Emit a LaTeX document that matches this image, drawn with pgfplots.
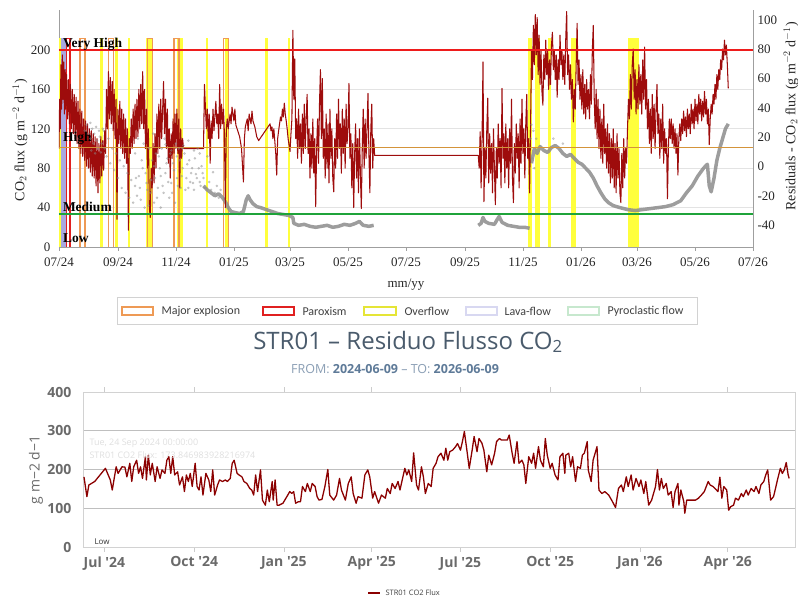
\documentclass[border=0pt]{standalone}
\usepackage{pgfplots}
\pgfplotsset{compat=1.18}
\usepackage{fontspec}
\setmainfont{Liberation Serif}
\newfontfamily\sans{Open Sans}
\newfontfamily\carl{Carlito}
\definecolor{topred}{HTML}{9E0C0C}
\definecolor{botred}{HTML}{8B0000}
\definecolor{bandyel}{HTML}{FFFF3C}
\definecolor{exporange}{HTML}{EE9A55}
\definecolor{parred}{HTML}{E02020}
\definecolor{lavflow}{HTML}{A8A8E0}
\definecolor{vhred}{HTML}{EE1C1C}
\definecolor{hiorange}{HTML}{D4943A}
\definecolor{medgreen}{HTML}{1FA33A}
\definecolor{resgray}{HTML}{8C8C8C}
\definecolor{titlecol}{HTML}{4A5B6C}
\definecolor{subcol}{HTML}{8A9EB4}
\definecolor{subbold}{HTML}{5E7A98}
\definecolor{axgray}{HTML}{6A6A6A}
\pgfplotsset{/pgf/number format/assume math mode=true}

\begin{document}
\begin{tikzpicture}
\path[use as bounding box, clip] (0pt,0pt) rectangle (798pt,598pt);

% ---------- top chart: CO2 flux with event bands ----------
\begin{axis}[
    at={(59pt,351pt)}, anchor=south west, scale only axis,
    width=694pt, height=237pt,
    xmin=0, xmax=730, ymin=0, ymax=240.6,
    axis x line*=bottom, axis y line*=left,
    axis line style={draw=gray!75, line width=0.8pt},
    xtick={0,62,123,184,243,304,365,427,488,549,608,669,730},
    xticklabels={07/24,09/24,11/24,01/25,03/25,05/25,07/25,09/25,11/25,01/26,03/26,05/26,07/26},
    ytick={0,40,80,120,160,200},
    ymajorgrids, grid style={gray!22, line width=0.7pt},
    tick align=outside, major tick length=4pt,
    xtick style={gray!75, line width=0.7pt}, ytick style={draw=none},
    ticklabel style={font=\fontsize{13}{14}\selectfont, text=black!85},
    xticklabel style={yshift=-3pt}, yticklabel style={xshift=-1pt},
  ]
  % overflow bands
  \addplot[fill=bandyel, draw=none] coordinates {(0,212) (2.1,212)} \closedcycle;
  \addplot[fill=bandyel, draw=none] coordinates {(43.6,212) (46.2,212)} \closedcycle;
  \addplot[fill=bandyel, draw=none] coordinates {(59.4,212) (62,212)} \closedcycle;
  \addplot[fill=bandyel, draw=none] coordinates {(72.3,212) (74.9,212)} \closedcycle;
  \addplot[fill=bandyel, draw=none] coordinates {(91.2,212) (99.2,212)} \closedcycle;
  \addplot[fill=bandyel, draw=none] coordinates {(123.8,212) (130.8,212)} \closedcycle;
  \addplot[fill=bandyel, draw=none] coordinates {(154.1,212) (156.7,212)} \closedcycle;
  \addplot[fill=bandyel, draw=none] coordinates {(174.6,212) (178,212)} \closedcycle;
  \addplot[fill=bandyel, draw=none] coordinates {(217.2,212) (219.8,212)} \closedcycle;
  \addplot[fill=bandyel, draw=none] coordinates {(240.7,212) (243.3,212)} \closedcycle;
  \addplot[fill=bandyel, draw=none] coordinates {(493.7,212) (497.3,212)} \closedcycle;
  \addplot[fill=bandyel, draw=none] coordinates {(500.8,212) (506,212)} \closedcycle;
  \addplot[fill=bandyel, draw=none] coordinates {(514.8,212) (517.3,212)} \closedcycle;
  \addplot[fill=bandyel, draw=none] coordinates {(538.6,212) (543.9,212)} \closedcycle;
  \addplot[fill=bandyel, draw=none] coordinates {(598.3,212) (610.1,212)} \closedcycle;
  % lava-flow band
  \addplot[fill=lavflow, draw=none] coordinates {(2.1,212) (8.1,212)} \closedcycle;
  % paroxysm and major explosions (outlined)
  \addplot[draw=parred, line width=1.1pt] coordinates {(8.1,0) (8.1,212) (11.6,212) (11.6,0)};
  \addplot[draw=exporange, line width=1.1pt] coordinates {(22.1,0) (22.1,212) (27.4,212) (27.4,0)};
  \addplot[draw=exporange, line width=1.1pt] coordinates {(52,0) (52,212) (57.5,212) (57.5,0)};
  \addplot[draw=exporange, line width=1.1pt] coordinates {(93,0) (93,212) (98,212) (98,0)};
  \addplot[draw=exporange, line width=1.1pt] coordinates {(121,0) (121,212) (126.2,212) (126.2,0)};
  \addplot[draw=exporange, line width=1.1pt] coordinates {(173.4,0) (173.4,212) (178.2,212) (178.2,0)};

  % residuals (grey): scattered cloud and dense runs
  \addplot[only marks, mark=*, mark size=1.1pt, color=resgray, opacity=0.4] coordinates {
    (27,118) (29,124) (31,115) (33,126) (46,120)
    (33,110) (34,98) (35,120) (36,105) (37,115) (38,95) (39,122) (40,108) (41,100) (42,118)
    (43,112) (44,96) (45,105) (47,118) (48,100) (50,92) (52,110) (54,85) (56,100) (58,78)
    (60,95) (62,70) (64,88) (66,60) (68,82) (70,55) (72,75) (74,50) (76,68) (78,45)
    (80,62) (82,52) (84,72) (86,48) (88,80) (90,40) (92,65) (94,42) (96,55) (98,88)
    (100,45) (101,70) (102,95) (104,60) (106,80) (107,40) (108,100) (110,55) (112,75) (114,90)
    (116,50) (118,65) (120,85) (122,45) (124,70) (126,100) (128,60) (130,80) (132,95) (134,70)
    (136,60) (137,88) (139,75) (141,65) (143,90) (145,70) (147,80) (149,62) (151,75) (153,60)
    (112,104) (118,98) (124,92) (131,103) (142,98) (148,95)
    (80,95) (81,70) (83,110) (85,60) (87,88) (89,105) (91,75) (93,58) (95,100) (97,68)
    (99,115) (100,82) (103,50) (105,92) (107,72) (109,62) (111,110) (113,85) (115,66) (117,95)
    (119,55) (121,78) (123,105) (125,62) (127,88) (129,72) (130,100) (133,58) (135,84) (136,108)
    (138,66) (140,80) (142,58) (144,74) (146,100) (148,66) (150,82) (152,70) (154,60) (156,92)
    (158,66) (160,58) (162,76) (164,55) (166,62) (168,50) (170,58)
    (496,110) (497,124) (498,90) (499,118) (500,80) (502,110) (520,110) (530,105)
  };
  \addplot[color=resgray, line width=3.5pt, opacity=0.85, line join=round] coordinates {
    (152,62) (156,58) (160,55) (164,52) (168,54) (172,50) (175,46) (178,40) (181,36) (185,35)
    (190,34) (194,36) (197,48) (199,52) (201,48) (204,44) (208,41) (212,40) (218,38) (224,36)
    (230,34) (236,33) (242,32) (246,30) (247,24) (252,22) (258,23) (264,21) (270,20) (276,21)
    (282,22) (288,20) (294,21) (300,23) (306,22) (312,24) (316,26) (320,22) (326,21) (331,22)
  };
  \addplot[color=resgray, line width=3.5pt, opacity=0.85, line join=round] coordinates {
    (441,22) (444,24) (446,30) (448,26) (452,24) (458,23) (461,28) (463,31) (466,25) (472,22)
    (478,21) (484,20) (490,20) (495,19)
  };
  \addplot[color=resgray, line width=3.5pt, opacity=0.85, line join=round] coordinates {
    (497,85) (500,100) (503,95) (506,102) (510,98) (514,96) (518,101) (522,103) (526,100) (530,95)
    (534,92) (538,94) (542,90) (546,86) (550,84) (554,80) (558,76) (562,70) (566,62) (570,55)
    (574,49) (578,45) (583,42) (590,40) (598,38) (606,37) (614,38) (622,39) (630,40) (638,41)
    (646,43) (654,47) (660,55) (666,62) (672,72) (678,80) (682,84) (684,62) (686,56) (689,70)
    (692,88) (695,100) (698,110) (701,120) (704,125)
  };

  % CO2 flux (dark red)
  \addplot[color=topred, line width=1.05pt, line join=round] coordinates {
    (0,100) (0.7,150) (1.4,120) (2,185) (2.8,140) (3.5,195) (4.2,150) (5,188) (5.7,135) (6.5,180)
    (7.2,140) (8,175) (9,130) (10,170) (11,125) (12,165) (13,120) (14,160) (15,115) (16,155)
    (17,110) (18,152) (19,105) (20,148) (21,100) (22,140) (23,95) (24,138) (25,92) (26,130)
    (27,88) (28,128) (29,82) (30,125) (31,80) (32,120) (33,76) (34,118) (35,72) (36,115)
    (37,70) (38,112) (39,62) (40,110) (41,55) (42,105) (43,65) (44,112) (45,72) (46,108)
    (47,78) (48,118)
    (49,95) (50,160) (51,120) (52,178) (53,130) (54,172) (55,125) (56,168) (57,118) (58,160)
    (59,110) (60,150) (61,28) (62,140) (63,105) (64,148) (65,100) (66,140) (67,95) (68,135)
    (69,90) (70,130) (71,85) (72,120) (73,17) (74,110) (75,95) (76,130) (77,100) (78,140)
    (79,105) (80,145) (81,110) (82,150) (83,112) (84,160) (85,120) (86,165) (87,125) (88,178)
    (89,120) (90,160) (91,100) (92,140) (93,80) (94,120) (95,40) (96,30) (97,80)
    (98,60) (99,105) (100,65) (101,115) (102,80) (103,135) (104,95) (105,145) (106,100) (107,150)
    (108,110) (110,168) (111,115) (112,150) (113,100) (114,140) (115,85) (116,120) (117,70) (118,115)
    (119,90) (120,130) (121,95) (122,135) (123,100) (124,140) (125,95) (126,130) (127,60) (128,120)
    (129,90) (130,110) (131,100) (151,100)
    (152,100) (153,165) (155,120) (156,140) (157,110) (158,135) (159,85) (160,128) (161,110) (162,140)
    (163,118) (165,148) (166,125) (167,135) (168,110) (169,165) (170,120) (171,145) (172,125) (173,140)
    (174,115) (175,40) (176,120) (177,130)
    (178,120) (180,135) (181,125) (182,142) (184,128) (185,140) (186,124) (188,118) (190,112) (192,100)
    (194,66) (195,110) (196,122) (198,130) (199,118) (200,135) (202,125) (203,138) (204,128) (206,122)
    (208,112) (210,108) (222,125)
    (223,118) (224,122) (225,110) (226,120) (228,95) (229,73) (230,110) (231,118) (232,125) (233,132)
    (234,128) (235,140) (236,132) (237,146) (238,135) (239,128) (240,120) (241,110) (243,97) (244,115)
    (245,130) (246,220) (247,150) (248,191) (249,110)
    (250,130) (251,90) (252,140) (253,100) (254,125) (255,85) (256,135) (257,95) (258,145) (259,100)
    (260,130) (261,155) (262,95) (263,120) (264,70) (265,115) (266,80) (267,130) (268,75) (269,110)
    (270,41) (271,100) (272,130) (273,85) (274,145) (275,180) (276,110) (277,171) (278,90) (279,120)
    (280,70) (281,135) (282,80) (283,125) (284,65) (285,140) (286,90) (287,120) (288,70) (289,56)
    (290,110) (291,80) (292,135) (293,90) (294,150) (295,100) (296,125) (297,75) (298,140) (299,95)
    (300,130) (301,80) (302,145) (303,105) (304,120) (305,166) (306,90) (307,115) (308,60) (309,105)
    (310,40) (311,95) (312,125) (313,70) (314,110) (315,55) (316,120) (317,75) (318,39) (319,100)
    (320,140) (321,80) (322,130) (323,90) (324,120) (325,156) (326,95) (327,55) (328,120) (329,145)
    (330,80) (331,110) (332,93) (441,93)
    (442,80) (443,117) (444,60) (445,110) (446,188) (447,46) (448,100) (449,70) (450,120) (451,151)
    (452,65) (453,115) (454,75) (455,105) (456,55) (457,120) (458,80) (459,43) (460,100) (461,70)
    (462,125) (463,85) (464,110) (465,60) (466,161) (467,90) (468,115) (469,65) (470,125) (471,80)
    (472,110) (473,60) (474,120) (475,85) (476,150) (477,70) (478,45) (479,105) (480,75) (481,125)
    (482,90) (483,115) (484,60) (485,130) (486,85) (487,150) (488,95) (489,120) (490,70) (491,125)
    (492,155) (493,90) (494,110) (495,55)
    (496,120) (497,200) (498,170) (499,225) (500,185) (501,236) (502,195) (503,233) (504,175) (505,215)
    (506,165) (507,200) (508,158) (509,144) (510,195) (511,170) (512,210) (513,175) (514,200) (515,160)
    (516,190) (517,165) (518,205) (519,218) (520,180) (521,200) (522,170) (523,195) (524,152) (525,190)
    (526,170) (527,215) (528,185) (529,200) (530,170) (531,195) (532,165) (533,210) (534,239) (535,175)
    (536,195) (537,160) (538,185) (539,150) (540,170) (541,127) (542,160) (543,140)
    (544,185) (545,227) (546,165) (547,190) (548,150) (549,175) (550,140) (551,180) (552,135) (553,165)
    (554,130) (555,170) (556,140) (557,160) (558,130) (559,175) (560,145) (561,200) (562,225) (563,150)
    (564,120) (565,160) (566,110) (567,150) (568,100) (569,140) (570,90) (571,130) (572,85) (573,145)
    (574,95) (575,120) (576,80) (577,125) (578,75) (579,115) (580,65) (581,110) (582,70) (583,120)
    (584,60) (585,105) (586,55) (587,115) (588,70) (589,100) (590,55) (591,45) (592,95) (593,60)
    (594,110) (595,70) (596,100) (597,85)
    (598,120) (599,150) (600,130) (601,175) (602,140) (603,185) (604,201) (605,150) (606,180) (607,135)
    (608,170) (609,140) (610,185) (611,145) (612,175) (613,135) (614,190) (615,150) (616,203) (617,140)
    (618,170) (619,120)
    (620,150) (621,105) (622,140) (623,95) (624,155) (625,110) (626,145) (627,100) (628,140) (629,165)
    (630,115) (631,135) (632,90) (633,130) (634,100) (635,145) (636,85) (637,120) (638,95) (639,110)
    (640,49) (641,100) (642,130) (643,110)
    (644,130) (645,105) (646,125) (647,100) (648,120) (649,95) (650,115) (651,73) (652,110) (653,125)
    (654,108) (655,130) (656,115) (657,138) (658,118) (659,132) (660,112) (661,140) (662,120) (663,135)
    (664,115) (665,145) (666,125) (667,140) (668,120) (669,150) (670,128) (671,145) (672,125) (673,155)
    (674,135) (675,150) (676,128) (677,148) (678,132) (679,158) (680,135) (681,150) (682,125) (683,140)
    (684,104) (685,130)
    (686,145) (687,135) (688,155) (689,145) (690,165) (691,150) (692,175) (693,160) (694,180) (695,170)
    (696,190) (697,180) (698,201) (699,190) (700,210) (701,195) (702,205) (703,185) (704,161)
  };

  % activity thresholds
  \addplot[color=vhred, line width=2.2pt] coordinates {(0,200) (730,200)};
  \addplot[color=hiorange, line width=1.8pt] coordinates {(0,101) (730,101)};
  \addplot[color=medgreen, line width=2.2pt] coordinates {(0,33.5) (730,33.5)};
  \node[anchor=west, font=\bfseries\fontsize{13.5}{14}\selectfont, inner sep=0pt] at (axis cs:4,206) {Very High};
  \node[anchor=west, font=\bfseries\fontsize{13.5}{14}\selectfont, inner sep=0pt] at (axis cs:4,110.5) {High};
  \node[anchor=west, font=\bfseries\fontsize{13.5}{14}\selectfont, inner sep=0pt] at (axis cs:4,40.5) {Medium};
  \node[anchor=west, font=\bfseries\fontsize{13.5}{14}\selectfont, inner sep=0pt] at (axis cs:4,9) {Low};
\end{axis}

% right-hand residual scale
\begin{axis}[
    at={(59pt,351pt)}, anchor=south west, scale only axis,
    width=694pt, height=237pt,
    xmin=0, xmax=730, ymin=-54.7, ymax=106.8,
    hide x axis, axis y line*=right,
    axis line style={draw=gray!75, line width=0.8pt},
    ytick={-40,-20,0,20,40,60,80,100}, ytick style={draw=none},
    ticklabel style={font=\fontsize{13}{14}\selectfont, text=black!85},
    yticklabel style={xshift=1pt},
  ]
  \addplot[draw=none] coordinates {(0,0) (730,0)};
\end{axis}

\node[rotate=90, font=\fontsize{14}{16}\selectfont, text=black!85] at (20pt,458pt) {CO$_2$ flux (g m$^{-2}$ d$^{-1}$)};
\node[rotate=90, anchor=west, font=\fontsize{14}{16}\selectfont, text=black!85] at (791pt,384pt) {Residuals - CO$_2$ flux (g m$^{-2}$ d$^{-1}$)};
\node[font=\fontsize{13}{14}\selectfont, text=black!85] at (406pt,313pt) {mm/yy};

% event legend
\draw[gray!35, line width=0.8pt, fill=white] (117pt,301pt) rectangle (697pt,274pt);
\draw[exporange, line width=1.2pt] (122pt,283pt) rectangle (153pt,291pt);
\node[anchor=west, font=\carl\fontsize{12}{14}\selectfont, text=black!75] at (158pt,287pt) {Major explosion};
\draw[parred, line width=1.2pt] (263pt,283pt) rectangle (294pt,291pt);
\node[anchor=west, font=\carl\fontsize{12}{14}\selectfont, text=black!75] at (299pt,287pt) {Paroxism};
\draw[bandyel!90!black, line width=1.2pt] (364pt,283pt) rectangle (396pt,291pt);
\node[anchor=west, font=\carl\fontsize{12}{14}\selectfont, text=black!75] at (401pt,287pt) {Overflow};
\draw[lavflow!45, line width=1.2pt] (466pt,283pt) rectangle (497pt,291pt);
\node[anchor=west, font=\carl\fontsize{12}{14}\selectfont, text=black!75] at (501pt,287pt) {Lava-flow};
\draw[medgreen!25, line width=1.2pt] (568pt,283pt) rectangle (599pt,291pt);
\node[anchor=west, font=\carl\fontsize{12}{14}\selectfont, text=black!75] at (604pt,287pt) {Pyroclastic flow};

% second chart titles
\node[font=\sans\fontsize{24}{28}\selectfont, text=titlecol] at (408pt,256pt) {STR01 – Residuo Flusso CO\textsubscript{2}};
\node[font=\sans\fontsize{12.5}{14}\selectfont] at (395pt,229pt) {\textcolor{subcol}{FROM:} \textcolor{subbold}{\bfseries 2024-06-09} \textcolor{subcol}{– TO:} \textcolor{subbold}{\bfseries 2026-06-09}};

% ---------- bottom chart: daily CO2 flux ----------
\begin{axis}[
    at={(83pt,51pt)}, anchor=south west, scale only axis,
    width=712pt, height=155pt,
    xmin=0, xmax=730, ymin=0, ymax=400,
    axis line style={draw=gray!35, line width=0.8pt},
    xtick={22,114,206,296,387,479,571,661},
    xticklabels={Jul '24,Oct '24,Jan '25,Apr '25,Jul '25,Oct '25,Jan '26,Apr '26},
    ytick={0,100,200,300,400},
    ymajorgrids, grid style={gray!50, line width=0.8pt},
    tick align=outside, major tick length=5pt,
    xtick style={gray!40, line width=0.8pt}, ytick style={draw=none},
    ticklabel style={font=\sans\bfseries\fontsize{14}{16}\selectfont, text=axgray},
    xticklabel style={yshift=-1pt}, yticklabel style={xshift=-3pt},
  ]
  \addplot[color=botred, line width=1.3pt, line join=round] coordinates {
    (1,181) (4,130) (6,160) (12,169) (23,203) (28,173) (30,147) (34,207) (36,190) (40,207)
    (43,206) (45,181) (48,216) (50,169) (52,207) (55,224) (57,190) (59,207) (61,177) (64,233)
    (65,173) (67,237) (69,186) (71,216) (74,169) (76,207) (79,177) (81,199) (84,190) (86,224)
    (88,233) (90,190) (92,233) (94,186) (97,194) (99,160) (102,181) (104,143) (106,186) (108,169)
    (110,190) (112,156) (115,216) (117,156) (119,147) (121,181) (123,134) (126,190) (129,173) (131,143)
    (133,199) (135,134) (138,160) (140,173) (143,169) (146,173) (148,169) (151,177) (153,216) (155,224)
    (158,190) (160,186) (163,181) (165,169) (168,164) (171,151) (173,147) (175,134) (177,186) (179,143)
    (182,199) (184,121) (187,108) (189,147) (191,117) (194,169) (195,121) (197,173) (199,108) (201,108)
    (205,113) (209,130) (212,143) (214,138) (216,143) (218,113) (221,117) (223,117) (225,156) (228,143)
    (230,164) (233,143) (235,164) (238,156) (240,130) (242,121)
    (245,123) (248,156) (251,200) (253,134) (257,121) (260,134) (263,177) (265,147) (269,121) (272,164)
    (275,181) (277,138) (280,113) (282,130) (286,126) (289,186) (292,199) (294,181) (297,126) (299,143)
    (303,113) (306,134) (310,126) (312,151) (315,138) (317,164) (320,151) (323,169) (325,147) (328,181)
    (330,203) (332,186) (334,199) (337,169) (339,243) (342,160) (344,147) (347,207) (349,181) (351,138)
    (354,164) (357,156) (359,203) (362,216) (364,233) (367,242) (370,224) (372,255) (374,224) (376,246)
    (379,250) (382,259) (384,267) (387,250) (389,272) (391,298) (394,242) (396,203) (399,250) (401,285)
    (404,246) (406,280) (409,268) (411,250) (414,194) (416,237) (419,212) (422,242) (424,272) (427,280)
    (429,276) (432,276) (435,276) (437,289) (440,242) (442,216) (445,272) (447,216) (450,224) (452,212)
    (454,164) (457,233) (460,216) (462,242) (464,203) (467,259) (469,224) (472,207) (474,280) (476,237)
    (479,203) (481,216) (484,186) (487,173)
    (489,233) (492,242) (494,190) (495,237) (498,242) (500,207) (502,233) (504,190) (505,169) (507,207)
    (510,203) (512,237) (514,242) (517,272) (518,199) (521,169) (523,224) (527,259) (529,147) (532,138)
    (535,143) (539,134) (542,121) (546,102) (549,151) (552,160) (554,143) (557,181) (559,156) (562,186)
    (564,147) (567,177) (570,156) (572,173) (575,138) (577,169) (580,108) (583,121) (587,156) (589,200)
    (591,147) (593,177) (595,151) (598,164) (600,134) (603,143) (605,102) (607,143) (610,164) (611,108)
    (613,147) (616,117) (617,87) (619,121) (628,121) (631,126) (634,134) (637,143) (641,169) (643,160)
    (646,156) (648,151) (651,143) (653,180) (655,126) (657,156) (660,147) (662,95) (664,104) (667,108)
    (669,126) (672,121) (675,138) (677,130) (680,147) (682,134) (685,151) (688,143) (690,156) (693,138)
    (695,160) (698,169) (700,186) (702,199) (705,121) (708,130) (710,151) (712,173) (715,203) (717,190)
    (719,199) (721,218) (723,186) (724,177)
  };
\end{axis}

\node[anchor=west, font=\sans\fontsize{8}{9}\selectfont, text=black!80] at (91pt,56pt) {Low};
\node[anchor=west, font=\sans\fontsize{9}{10}\selectfont, text=gray!25] at (86pt,155pt) {Tue, 24 Sep 2024 00:00:00};
\node[anchor=west, font=\sans\fontsize{9}{10}\selectfont, text=gray!25] at (86pt,143pt) {STR01 CO2 Flux: 173.846983928216974};
\node[rotate=90, font=\sans\fontsize{14}{16}\selectfont, text=axgray] at (36pt,128pt) {g m−2 d−1};
\draw[botred, line width=1.1pt] (368pt,5pt) -- (380pt,5pt);
\node[anchor=west, font=\sans\fontsize{7.5}{9}\selectfont, text=black!75] at (382pt,5pt) {STR01 CO2 Flux};
\end{tikzpicture}
\end{document}
